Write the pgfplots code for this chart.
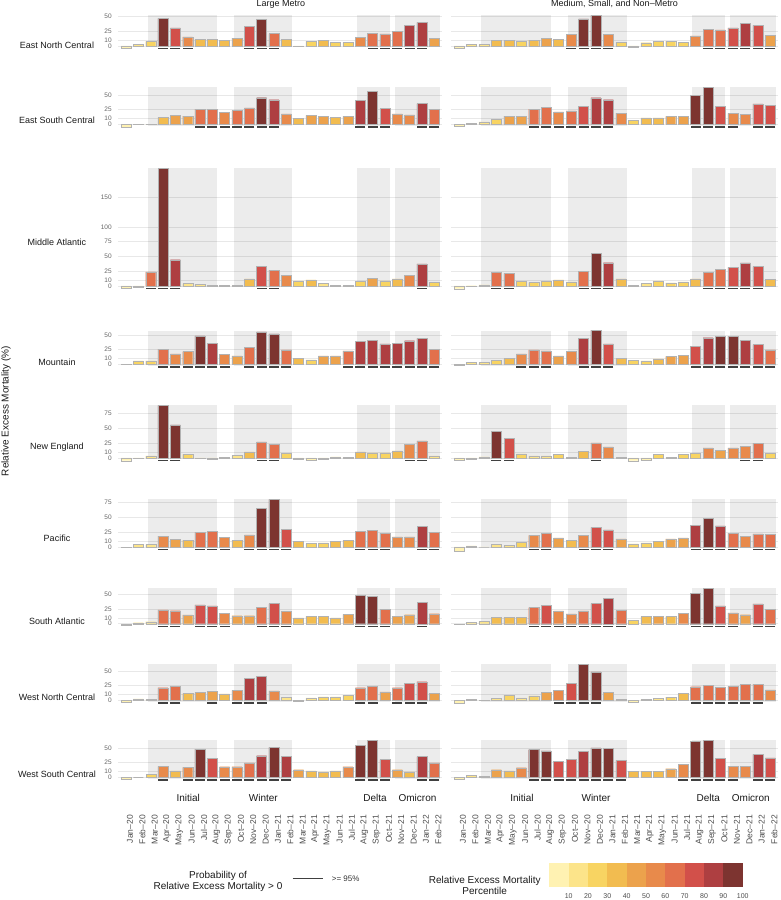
\documentclass[border=0pt]{standalone}
\usepackage{pgfplots}
\pgfplotsset{compat=1.18}
\usepackage{pgfplotstable}
\usepackage{fontspec}
\setmainfont{Liberation Sans}

\definecolor{c1}{HTML}{FFF2B2}
\definecolor{c2}{HTML}{FCE48A}
\definecolor{c3}{HTML}{F8D462}
\definecolor{c4}{HTML}{F2BC50}
\definecolor{c5}{HTML}{ECA24C}
\definecolor{c6}{HTML}{E88A4B}
\definecolor{c7}{HTML}{E2704C}
\definecolor{c8}{HTML}{D2504A}
\definecolor{c9}{HTML}{AE3F41}
\definecolor{c10}{HTML}{7D3430}

% x = month index (0 = Jan-20), y = relative excess mortality (%), c = percentile class, s = P(>0) >= 95%
% L = Large Metro, R = Medium, Small, and Non-Metro
\pgfplotstableread{
x yL cL sL yR cR sR
0 -3 1 0 -3.9 1 0
1 3.3 2 0 3 2 0
2 7.8 3 0 2.8 2 0
3 47 10 1 10 4 0
4 30.5 8 1 10 4 0
5 15.5 6 1 8.3 3 0
6 11 4 0 10 4 0
7 11 4 0 13.3 5 0
8 10 4 0 11.7 4 0
9 13.3 5 0 20 6 1
10 33 8 1 46 10 1
11 45 10 1 51.7 10 1
12 21 7 1 19.4 6 1
13 11 4 0 6.7 3 0
14 0.3 1 0 -2 1 0
15 8.3 3 0 5.6 3 0
16 10 4 0 7.8 3 0
17 6 3 0 8.3 3 0
18 6 3 0 6.7 3 0
19 15 6 0 17.2 6 0
20 22 7 1 28.3 7 1
21 20.5 7 1 27.2 7 1
22 25 7 1 30.6 8 1
23 35.5 9 1 39.4 9 1
24 40 9 1 35 8 1
25 13.3 5 0 18.3 5 1
}\tENC

\pgfplotstableread{
x yL cL sL yR cR sR
0 -5 1 0 -3.3 1 0
1 0.3 1 0 1.7 2 0
2 0.3 1 0 3.9 2 0
3 11.7 4 0 8.9 3 0
4 15 5 0 13.9 5 0
5 14 5 0 13.9 5 0
6 25.5 7 1 25.5 7 1
7 25.5 7 1 28.9 7 1
8 20.5 6 1 21 6 1
9 23.3 7 1 22.8 7 1
10 28 7 1 30.5 8 1
11 45 10 1 45 9 1
12 41.7 9 1 41.6 9 1
13 17.8 6 0 18.9 6 0
14 10 4 0 7.2 3 0
15 15 5 0 11 4 0
16 13.3 5 0 11 4 0
17 12.2 4 0 13.3 5 0
18 13.3 5 0 13.9 5 0
19 40.5 9 1 48.9 10 1
20 55.5 10 1 62.8 10 1
21 27.8 8 1 30.5 8 1
22 17.8 6 0 18.3 6 1
23 16 6 0 16.7 6 0
24 35 9 1 34.4 8 1
25 25.5 7 1 31.7 8 1
}\tESC

\pgfplotstableread{
x yL cL sL yR cR sR
0 -4 1 0 -4.6 1 0
1 -1.5 1 0 0.5 1 0
2 24 7 1 1.7 2 0
3 200 10 1 22.7 7 1
4 44.5 9 1 21.5 7 1
5 4 2 0 8 3 0
6 2.3 2 0 5.8 3 0
7 1 1 0 8 3 0
8 1 1 0 10.4 4 0
9 1 1 0 7 3 0
10 12 4 0 25 7 1
11 34 8 1 55.8 10 1
12 27 7 1 39.5 9 1
13 18.3 6 0 12.2 4 0
14 8.6 3 0 1.1 1 0
15 10.3 4 0 4 2 0
16 4.6 2 0 8.7 3 0
17 1.1 1 0 5.2 3 0
18 1.1 1 0 7 3 0
19 8 3 0 12.2 4 0
20 12.5 5 0 22.7 7 1
21 8.6 3 0 28 7 1
22 12 4 0 31.4 8 1
23 17.7 6 0 39 9 1
24 37.6 9 1 33 8 1
25 5.7 3 0 11.6 4 0
}\tMA

\pgfplotstableread{
x yL cL sL yR cR sR
0 0.5 1 0 -1 1 0
1 5.7 3 0 3.4 2 0
2 5.7 3 0 2.8 2 0
3 25.5 7 1 6.2 3 0
4 17.6 6 1 9.7 4 0
5 21.6 6 1 17.6 6 1
6 48 10 1 24.4 7 1
7 35.8 9 1 22.7 7 1
8 17 6 1 14.2 5 0
9 14.2 5 0 21.6 6 0
10 28.4 7 1 44.3 9 1
11 55 10 1 58 10 1
12 51.7 10 1 34.7 8 1
13 24.4 7 1 10.2 4 0
14 10.2 4 0 6.2 3 0
15 7.4 3 0 5.7 3 0
16 14.2 5 0 9 4 0
17 14.2 5 0 13.6 5 0
18 22.7 7 1 15.3 5 0
19 38.6 9 1 30 8 1
20 41 9 1 45 9 1
21 34.7 9 1 47.7 10 1
22 35 9 1 47.7 10 1
23 40 9 1 40.3 9 1
24 44 9 1 33.5 8 1
25 25.5 7 1 24.4 7 1
}\tMT

\pgfplotstableread{
x yL cL sL yR cR sR
0 -4.5 1 0 -4 1 0
1 -1 1 0 -1.7 1 0
2 3.4 2 0 1.7 2 0
3 89 10 1 45 10 1
4 56 10 1 33 8 1
5 6.2 3 0 6.8 3 0
6 -1 1 0 3.4 2 0
7 -2 1 0 3.4 2 0
8 1 1 0 6.2 3 0
9 4.5 2 0 1.1 1 0
10 10.2 4 0 12 4 0
11 27.3 7 1 25.6 7 1
12 23.3 7 1 18.8 6 0
13 7.4 3 0 1.1 1 0
14 -1.5 1 0 -4.5 1 0
15 -4 1 0 -4 1 0
16 -2 1 0 5.7 3 0
17 1.7 2 0 1.1 1 0
18 1.1 1 0 6.2 3 0
19 10.2 4 0 8 3 0
20 8.5 3 0 17 6 0
21 8.5 3 0 13 5 0
22 12 4 0 17 6 0
23 23.3 6 1 19.9 6 1
24 29 7 1 25 7 1
25 3.4 2 0 8 3 0
}\tNE

\pgfplotstableread{
x yL cL sL yR cR sR
0 0.5 1 0 -7.4 1 0
1 4 2 0 1.7 2 0
2 4 2 0 0 1 0
3 18.3 6 1 4.6 2 0
4 13.7 5 0 2.9 2 0
5 11.4 4 0 8 3 0
6 25 7 1 19.5 6 1
7 26.3 7 1 23.5 7 1
8 16.6 6 1 15.5 5 0
9 11.4 4 0 10.9 4 0
10 20.6 6 1 19.5 6 1
11 65 10 1 33.2 8 1
12 80.7 10 1 29.2 8 1
13 31 8 1 13.7 5 0
14 9.7 4 0 5.2 3 0
15 5.7 3 0 6.9 3 0
16 6.9 3 0 9.7 4 0
17 9.7 4 0 13.7 5 0
18 11.4 4 0 15.5 5 0
19 27 7 1 36.6 9 1
20 28.6 7 1 48.7 10 1
21 23.5 7 1 36 9 1
22 17.2 6 0 23.5 7 1
23 17.2 6 0 17.7 6 0
24 35.5 9 1 22.3 7 1
25 25 7 1 21.8 7 1
}\tPAC

\pgfplotstableread{
x yL cL sL yR cR sR
0 -3 1 0 -1 1 0
1 1.7 2 0 2.3 2 0
2 3.4 2 0 4 2 0
3 23.3 7 1 10.8 4 0
4 22 7 1 10.8 4 0
5 14.8 5 0 10.8 4 0
6 31.8 8 1 27.3 7 1
7 30 8 1 30.7 8 1
8 18 6 1 21.6 6 1
9 13.6 5 0 16.5 6 1
10 13.6 5 0 21.6 7 1
11 27.8 7 1 34 8 1
12 34 8 1 42.6 9 1
13 20.5 6 1 22.2 7 1
14 9.7 4 0 6.8 3 0
15 12.5 4 0 12 4 0
16 12.5 4 0 13 5 0
17 9.7 4 0 12 4 0
18 15.9 5 0 17.6 6 0
19 48.3 10 1 51.7 10 1
20 46.6 10 1 60.2 10 1
21 23.9 7 1 30 8 1
22 13 5 0 18.2 6 1
23 15.3 5 0 15.3 5 0
24 37 9 1 33.5 8 1
25 17 6 0 24.4 7 1
}\tSA

\pgfplotstableread{
x yL cL sL yR cR sR
0 -3.4 1 0 -4.6 1 0
1 2.3 2 0 1.7 2 0
2 1.1 1 0 -0.5 1 0
3 21.3 7 1 2.9 2 0
4 23.6 7 1 8.6 3 0
5 11.5 4 0 4 2 0
6 13.2 5 0 7.5 3 0
7 15 5 1 13.2 5 0
8 10.9 4 0 17.2 6 1
9 16.7 6 1 29.3 8 1
10 36.8 9 1 61.5 10 1
11 40.8 9 1 48.3 10 1
12 16.1 6 0 13.8 5 0
13 4.6 2 0 1.1 1 0
14 -1 1 0 -3.4 1 0
15 4 2 0 1.7 2 0
16 5.7 3 0 2.9 2 0
17 5.7 3 0 5.2 3 0
18 8.6 3 0 12 4 0
19 21.3 7 1 23 7 1
20 23.6 7 1 25.9 7 1
21 14.4 5 0 22.4 7 1
22 21.3 7 1 23.6 7 1
23 28.7 8 1 27.6 7 1
24 31.6 8 1 27.6 7 1
25 12 5 0 17.8 6 0
}\tWNC

\pgfplotstableread{
x yL cL sL yR cR sR
0 -3.5 1 0 -3.5 1 0
1 0 1 0 3.5 2 0
2 5.8 3 0 1.7 2 0
3 18.6 6 1 12.8 5 0
4 11 4 0 11 4 0
5 16.9 6 1 16.3 6 0
6 47.7 10 1 47 10 1
7 32.6 8 1 44.8 10 1
8 18 6 1 27.3 8 1
9 18 6 1 30.2 8 1
10 24.4 7 1 43.6 9 1
11 36.6 9 1 50 10 1
12 50.6 10 1 49.4 10 1
13 35.5 9 1 28.5 8 1
14 12.8 5 0 10.5 4 0
15 11 4 0 10.5 4 0
16 9.3 4 0 10.5 4 0
17 11 4 0 14.5 5 0
18 18 6 0 21.5 6 1
19 54 10 1 61 10 1
20 62.8 10 1 62.8 10 1
21 30 8 1 32 8 1
22 12.8 5 0 18.6 6 1
23 9.3 4 0 18.6 6 0
24 35 9 1 39 9 1
25 24.4 7 1 33 8 1
}\tWSC

\pgfplotsset{
  panelstyle/.style={
    anchor=south west, y=0.59pt, xmin=-0.62, xmax=25.62, ymin=-8, clip=false,
    axis line style={draw=none}, major tick length=0pt, tick style={draw=none},
    xtick=\empty, ytick={0,10,25,50,75,100,150},
    ymajorgrids, grid style={black!9, line width=0.5pt},
    /pgf/number format/assume math mode=true,
    yticklabel style={font=\fontsize{6.5}{7}\selectfont, text=black!60, inner sep=0pt, xshift=-6.5pt},
  },
  leftpanel/.style={x=12.33pt},
  rightpanel/.style={x=12.45pt, yticklabel style={opacity=0}},
  monthlabels/.style={
    xtick={0,...,25},
    xticklabels={Jan--20,Feb--20,Mar--20,Apr--20,May--20,Jun--20,Jul--20,Aug--20,Sep--20,Oct--20,Nov--20,Dec--20,Jan--21,Feb--21,Mar--21,Apr--21,May--21,Jun--21,Jul--21,Aug--21,Sep--21,Oct--21,Nov--21,Dec--21,Jan--22,Feb--22},
    xticklabel style={font=\fontsize{8.5}{9}\selectfont, text=black!70, inner sep=0pt, yshift=-33pt, xshift=4pt, rotate=90, anchor=east},
  },
}

% #1 table, #2 L/R, #3 x pos, #4 y pos, #5 ymax, #6 extra options
\newcommand{\panel}[6]{%
\begin{axis}[panelstyle, at={(#3pt,#4pt)}, ymax=#5, #6]
  \fill[black, fill opacity=0.075] (axis cs:1.78,-2.5) rectangle (axis cs:7.38,#5);
  \fill[black, fill opacity=0.075] (axis cs:8.77,-2.5) rectangle (axis cs:13.47,#5);
  \fill[black, fill opacity=0.075] (axis cs:18.75,-2.5) rectangle (axis cs:21.4,#5);
  \fill[black, fill opacity=0.075] (axis cs:21.8,-2.5) rectangle (axis cs:25.5,#5);
  \pgfplotsinvokeforeach{1,...,10}{%
    \addplot[ybar, bar width=10pt, bar shift=0pt, fill=c##1, draw=black!30, line width=0.3pt]
      table[x=x, y=y#2, restrict expr to domain={\thisrow{c#2}}{##1:##1}] {#1};
  }
  \addplot[only marks, mark=-, mark size=5pt, mark options={line width=1.3pt, draw=black!75}]
    table[x=x, y expr=-4.6, restrict expr to domain={\thisrow{s#2}}{1:1}] {#1};
\end{axis}}

\begin{document}
\begin{tikzpicture}
\useasboundingbox (0,0) rectangle (781pt,900pt);

% left column (Large Metro)
\panel{\tENC}{L}{118.36}{849.28}{52}{leftpanel}
\panel{\tESC}{L}{118.36}{770.98}{63}{leftpanel}
\panel{\tMA}{L}{118.36}{609.28}{200}{leftpanel}
\panel{\tMT}{L}{118.36}{530.98}{57}{leftpanel}
\panel{\tNE}{L}{118.36}{437.28}{89}{leftpanel}
\panel{\tPAC}{L}{118.36}{348.28}{81}{leftpanel}
\panel{\tSA}{L}{118.36}{271.58}{60.5}{leftpanel}
\panel{\tWNC}{L}{118.36}{194.98}{62}{leftpanel}
\panel{\tWSC}{L}{118.36}{117.98}{63}{leftpanel, monthlabels}
% right column (Medium, Small, and Non-Metro)
\panel{\tENC}{R}{451.28}{849.28}{52}{rightpanel}
\panel{\tESC}{R}{451.28}{770.98}{63}{rightpanel}
\panel{\tMA}{R}{451.28}{609.28}{200}{rightpanel}
\panel{\tMT}{R}{451.28}{530.98}{57}{rightpanel}
\panel{\tNE}{R}{451.28}{437.28}{89}{rightpanel}
\panel{\tPAC}{R}{451.28}{348.28}{81}{rightpanel}
\panel{\tSA}{R}{451.28}{271.58}{60.5}{rightpanel}
\panel{\tWNC}{R}{451.28}{194.98}{62}{rightpanel}
\panel{\tWSC}{R}{451.28}{117.98}{63}{rightpanel, monthlabels}

% column titles
\node[anchor=base, font=\fontsize{9}{10}\selectfont, text=black!90] at (281pt,893pt) {Large Metro};
\node[anchor=base, font=\fontsize{9}{10}\selectfont, text=black!90] at (614.5pt,893pt) {Medium, Small, and Non--Metro};

% row labels
\begin{scope}[every node/.style={anchor=base, font=\fontsize{9}{10}\selectfont, text=black!90}]
\node at (57pt,851pt) {East North Central};
\node at (57pt,776pt) {East South Central};
\node at (57pt,654.5pt) {Middle Atlantic};
\node at (57pt,534.5pt) {Mountain};
\node at (57pt,450pt) {New England};
\node at (57pt,358pt) {Pacific};
\node at (57pt,275pt) {South Atlantic};
\node at (57pt,199pt) {West North Central};
\node at (57pt,122pt) {West South Central};
\end{scope}

% y axis title
\node[rotate=90, font=\fontsize{10}{12}\selectfont, text=black!90] at (6pt,489pt) {Relative Excess Mortality (\%)};

% period labels
\begin{scope}[every node/.style={anchor=base, font=\fontsize{10}{12}\selectfont, text=black!90}]
\node at (188.3pt,98.5pt) {Initial};
\node at (263.3pt,98.5pt) {Winter};
\node at (375pt,98.5pt) {Delta};
\node at (417.5pt,98.5pt) {Omicron};
\node at (522pt,98.5pt) {Initial};
\node at (596pt,98.5pt) {Winter};
\node at (708.3pt,98.5pt) {Delta};
\node at (750.8pt,98.5pt) {Omicron};
\end{scope}

% legend: probability
\node[anchor=base, font=\fontsize{10}{12}\selectfont, text=black!90] at (218pt,21pt) {Probability of};
\node[anchor=base, font=\fontsize{10}{12}\selectfont, text=black!90] at (218pt,10pt) {Relative Excess Mortality > 0};
\draw[black!75, line width=1pt] (292.7pt,21.7pt) -- (323.3pt,21.7pt);
\node[anchor=base west, inner sep=0pt, font=\fontsize{8}{9}\selectfont, text=black!80] at (331.7pt,18.6pt) {>= 95\%};

% legend: percentile colours
\node[anchor=base, font=\fontsize{10}{12}\selectfont, text=black!90] at (484.7pt,16.6pt) {Relative Excess Mortality};
\node[anchor=base, font=\fontsize{10}{12}\selectfont, text=black!90] at (484.7pt,5.2pt) {Percentile};
\foreach \k [evaluate=\k as \xa using 549.3+19.34*(\k-1), evaluate=\k as \xb using 549.3+19.34*\k, evaluate=\k as \lab using int(10*\k)] in {1,...,10} {
  \fill[c\k] (\xa pt,13.3pt) rectangle (\xb pt,37.3pt);
  \node[anchor=base, inner sep=0pt, font=\fontsize{7}{8}\selectfont, text=black!70] at (\xb pt,1.2pt) {\lab};
}
\end{tikzpicture}
\end{document}
